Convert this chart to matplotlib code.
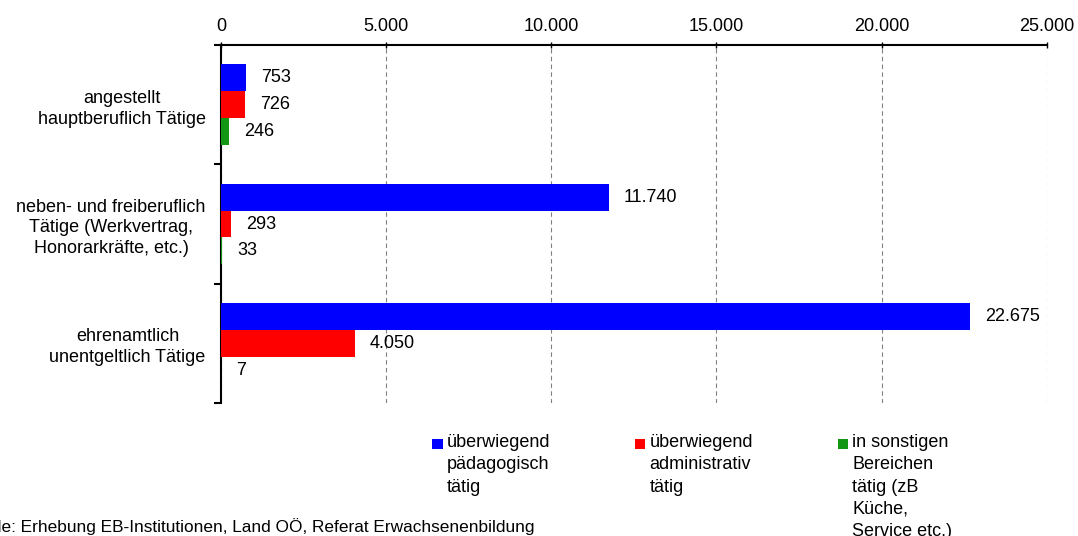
import matplotlib.pyplot as plt
from matplotlib.patches import Rectangle
import numpy as np

plt.rcParams['font.family'] = ['Liberation Sans', 'DejaVu Sans']

# Data
categories = ['angestellt\nhauptberuflich Tätige',
              'neben- und freiberuflich\nTätige (Werkvertrag,\nHonorarkräfte, etc.)',
              'ehrenamtlich\nunentgeltlich Tätige']
series_names = ['überwiegend\npädagogisch\ntätig',
                'überwiegend\nadministrativ\ntätig',
                'in sonstigen\nBereichen\ntätig (zB\nKüche,\nService etc.)']
paed = [753, 11740, 22675]
admin = [726, 293, 4050]
sonst = [246, 33, 7]
colors = ['#0000FF', '#FF0000', '#139613']
x_ticks = [0, 5000, 10000, 15000, 20000, 25000]
source = 'Quelle: Erhebung EB-Institutionen, Land OÖ, Referat Erwachsenenbildung'


def de_fmt(v):
    return f"{v:,}".replace(",", ".")


fig = plt.figure(figsize=(10.78, 5.36), dpi=100)
ax = fig.add_axes([0.205, 0.248, 0.766, 0.668])

y = np.arange(len(categories))
h = 0.225
for i, (vals, col) in enumerate(zip([paed, admin, sonst], colors)):
    bars = ax.barh(y + (i - 1) * h, vals, height=h, color=col, zorder=3)
    for b, v in zip(bars, vals):
        ax.annotate(de_fmt(v), xy=(b.get_width(), b.get_y() + b.get_height() / 2),
                    xytext=(11, 0), textcoords='offset points',
                    va='center', ha='left', fontsize=13)

ax.set_xlim(0, 25000)
ax.set_ylim(2.5, -0.5)

ax.xaxis.tick_top()
ax.set_xticks(x_ticks)
ax.set_xticklabels([de_fmt(t) for t in x_ticks], fontsize=13)
ax.tick_params(axis='x', direction='inout', length=5, width=1, pad=5)
ax.grid(axis='x', color='#808080', linestyle=(0, (4, 3)), linewidth=0.8, zorder=0)

ax.set_yticks([-0.5, 0.5, 1.5, 2.5])
ax.set_yticklabels([])
ax.tick_params(axis='y', which='major', direction='out', length=5, width=1.5)
ax.set_yticks(y, minor=True)
ax.set_yticklabels(categories, minor=True, fontsize=13)
ax.tick_params(axis='y', which='minor', length=0, pad=11)
for lbl in ax.get_yticklabels(minor=True):
    lbl.set_multialignment('center')
    lbl.set_linespacing(1.3)

for s in ['right', 'bottom']:
    ax.spines[s].set_visible(False)
ax.spines['top'].set_linewidth(1.5)
ax.spines['left'].set_linewidth(1.5)

# Legend (manual, below chart)
leg_x = [0.401, 0.589, 0.777]
for lx, name, col in zip(leg_x, series_names, colors):
    fig.add_artist(Rectangle((lx, 0.162), 0.0095, 0.019, transform=fig.transFigure,
                             facecolor=col, edgecolor='none'))
    fig.text(lx + 0.0135, 0.19, name, fontsize=13, va='top', ha='left',
             linespacing=1.4)

fig.text(0.496, 0.002, source, fontsize=12.4, ha='right', va='bottom')

fig.savefig('out.png', dpi=100)
